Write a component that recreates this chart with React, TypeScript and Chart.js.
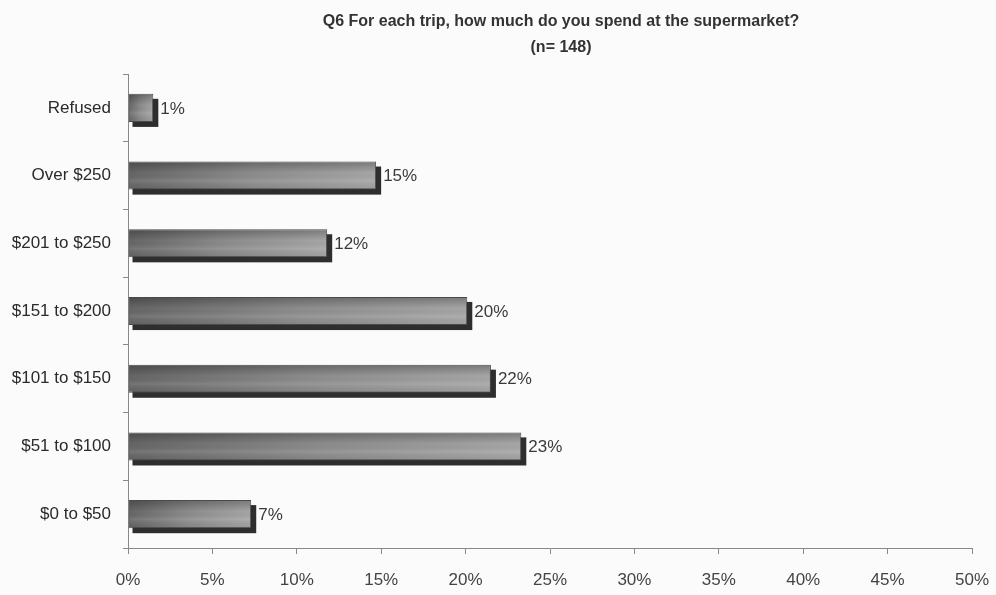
import React, { useEffect, useRef } from "react";
import { Chart, registerables } from "chart.js";

Chart.register(...registerables);

const categories = [
  "Refused",
  "Over $250",
  "$201 to $250",
  "$151 to $200",
  "$101 to $150",
  "$51 to $100",
  "$0 to $50",
];
const shares = [1.5, 14.7, 11.8, 20.1, 21.5, 23.3, 7.3];
const valueLabels = ["1%", "15%", "12%", "20%", "22%", "23%", "7%"];
const titleLines = [
  "Q6 For each trip, how much do you spend at the supermarket?",
  "(n= 148)",
];
const axisMax = 50;
const axisStep = 5;

const FONT = "'Liberation Sans', Arial, sans-serif";

const bgPlugin = {
  id: "bgPlugin",
  beforeDraw(chart: any) {
    const { ctx, width, height } = chart;
    ctx.save();
    ctx.fillStyle = "#fbfbfb";
    ctx.fillRect(0, 0, width, height);
    ctx.restore();
  },
};

const titlePlugin = {
  id: "titlePlugin",
  afterDraw(chart: any) {
    const { ctx, chartArea } = chart;
    const cx = (chartArea.left + chartArea.right) / 2 + 11;
    ctx.save();
    ctx.fillStyle = "#333";
    ctx.font = `bold 16px ${FONT}`;
    ctx.textAlign = "center";
    ctx.textBaseline = "middle";
    ctx.fillText(titleLines[0], cx, 22);
    ctx.fillText(titleLines[1], cx, 48);
    ctx.restore();
  },
};

const barShadowPlugin = {
  id: "barShadow",
  beforeDatasetsDraw(chart: any) {
    const ctx = chart.ctx;
    const meta = chart.getDatasetMeta(0);
    ctx.save();
    ctx.fillStyle = "#2e2e2e";
    meta.data.forEach((bar: any) => {
      const top = bar.y - bar.height / 2;
      const w = bar.x - bar.base;
      if (w > 0) ctx.fillRect(bar.base + 4, top + 5, w + 1, bar.height);
    });
    ctx.restore();
  },
  afterDatasetsDraw(chart: any) {
    const ctx = chart.ctx;
    const meta = chart.getDatasetMeta(0);
    ctx.save();
    meta.data.forEach((bar: any, i: number) => {
      const top = bar.y - bar.height / 2 + 1;
      const h = bar.height - 2;
      const left = bar.base + 1;
      const w = bar.x - bar.base - 2;
      if (w > 0) {
        const g = ctx.createLinearGradient(0, top, 0, top + h);
        g.addColorStop(0, "rgba(0,0,0,0.25)");
        g.addColorStop(0.4, "rgba(0,0,0,0.0)");
        g.addColorStop(0.7, "rgba(255,255,255,0.10)");
        g.addColorStop(1, "rgba(0,0,0,0.04)");
        ctx.fillStyle = g;
        ctx.fillRect(left, top, w, h);
      }
      ctx.fillStyle = "#3a3a3a";
      ctx.font = `17px ${FONT}`;
      ctx.textAlign = "left";
      ctx.textBaseline = "middle";
      ctx.fillText(valueLabels[i], bar.x + 7, bar.y + 1);
    });
    ctx.restore();
  },
};

export default function App() {
  const canvasRef = useRef<HTMLCanvasElement | null>(null);

  useEffect(() => {
    if (!canvasRef.current) return;
    const chart = new Chart(canvasRef.current, {
      type: "bar",
      data: {
        labels: categories,
        datasets: [
          {
            data: shares,
            backgroundColor: (c: any) => {
              const chart = c.chart;
              const xs = chart.scales?.x;
              if (!xs || !chart.chartArea) return "#888";
              const x0 = xs.getPixelForValue(0);
              const x1 = xs.getPixelForValue(shares[c.dataIndex] ?? 1);
              const g = chart.ctx.createLinearGradient(x0, 0, Math.max(x1, x0 + 1), 0);
              g.addColorStop(0, "#656565");
              g.addColorStop(0.5, "#8c8c8c");
              g.addColorStop(1, "#a6a6a6");
              return g;
            },
            borderColor: "#4a4a4a",
            borderWidth: 1,
            categoryPercentage: 0.5,
            barPercentage: 0.83,
          },
        ],
      },
      options: {
        indexAxis: "y",
        responsive: false,
        animation: false,
        maintainAspectRatio: false,
        layout: { padding: { top: 74, right: 24, left: 0, bottom: 0 } },
        plugins: {
          legend: { display: false },
          title: { display: false },
          tooltip: { enabled: false },
        },
        scales: {
          x: {
            min: 0,
            max: axisMax,
            ticks: {
              stepSize: axisStep,
              padding: 16,
              color: "#444",
              font: { family: FONT, size: 17 },
              callback: (v: any) => `${v}%`,
            },
            grid: {
              drawOnChartArea: false,
              drawTicks: true,
              tickLength: 6,
              color: "#888",
            },
            border: { display: true, color: "#888", width: 1 },
            afterFit: (s: any) => {
              s.height = 47;
              s.paddingLeft = 0;
              s.paddingRight = 0;
            },
          },
          y: {
            ticks: {
              padding: 12,
              color: "#2a2a2a",
              font: { family: FONT, size: 17 },
            },
            grid: {
              drawOnChartArea: false,
              drawTicks: true,
              tickLength: 5,
              color: "#888",
              offset: true,
            },
            border: { display: true, color: "#888", width: 1 },
            afterFit: (s: any) => {
              s.width = 128;
              s.paddingTop = 0;
              s.paddingBottom = 0;
            },
          },
        },
      },
      plugins: [bgPlugin, barShadowPlugin, titlePlugin],
    });
    return () => chart.destroy();
  }, []);

  return (
    <div style={{ position: "fixed", left: 0, top: 0, width: 996, height: 595 }}>
      <canvas ref={canvasRef} width={996} height={595} style={{ width: 996, height: 595 }} />
    </div>
  );
}
